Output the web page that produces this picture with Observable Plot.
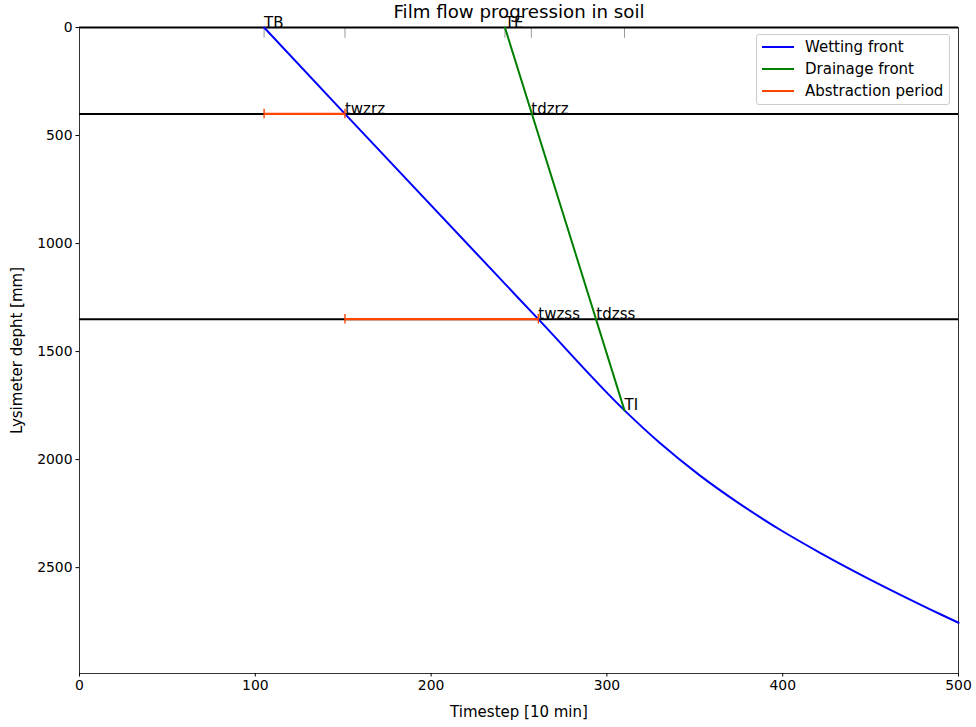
<!DOCTYPE html>
<html>
<head>
<meta charset="utf-8">
<script src="https://cdn.jsdelivr.net/npm/d3@7"></script>
<script src="https://cdn.jsdelivr.net/npm/@observablehq/plot@0.6"></script>
<style>
  body { margin: 0; background: #fff; font-family: "DejaVu Sans", sans-serif; }
  #wrap { position: relative; width: 976px; height: 727px; }
  #legend { position: absolute; left: 756px; top: 34px; width: 194px; height: 71px;
    border: 1px solid #cccccc; border-radius: 3px; background: rgba(255,255,255,0.8);
    box-sizing: border-box; font-size: 15px; color: #000; }
  .row { position: absolute; left: 0; height: 20px; }
  .sw { position: absolute; left: 5px; width: 32px; height: 0; border-top: 2px solid; top: 9px; }
  .lb { position: absolute; left: 48px; top: 0; white-space: nowrap; line-height: 20px; }
</style>
</head>
<body>
<div id="wrap"></div>
<script>
// Wetting front (timestep, depth mm)
const wetT = [105, 151, 261, 310, 330, 353, 376, 399, 421, 444, 467, 490, 500];
const wetD = [0, 400, 1350, 1772, 1922, 2074, 2207, 2327, 2430, 2531, 2626, 2717, 2755];
// Drainage front
const drainT = [242, 310];
const drainD = [0, 1772];
// Horizontal levels (surface, root zone, sub-soil)
const levelD = [0, 400, 1350];
// Abstraction periods
const abstrStart = [105, 151];
const abstrEnd = [151, 261];
const abstrD = [400, 1350];
// Annotated points
const markerNames = ["TB", "twzrz", "TE", "tdzrz", "twzss", "tdzss", "TI"];
const markerT = [105, 151, 242, 257, 261, 294, 310];
const markerD = [0, 400, 0, 400, 1350, 1350, 1772];
// Small gray ticks at the surface
const topTickT = [105, 151, 242, 257, 310];
const topTickLen = 50;
const capHalf = 22;
const xTicks = [0, 100, 200, 300, 400, 500];
const yTicks = [0, 500, 1000, 1500, 2000, 2500];

const wet = wetT.map((t, i) => ({t, d: wetD[i]}));
const drain = drainT.map((t, i) => ({t, d: drainD[i]}));
const abstr = abstrD.map((d, i) => ({x1: abstrStart[i], x2: abstrEnd[i], d}));
const caps = abstr.flatMap(a => [{t: a.x1, d: a.d}, {t: a.x2, d: a.d}]);
const markers = markerNames.map((n, i) => ({n, t: markerT[i], d: markerD[i]}));

const fs = 13.9;
const fsText = 15;
const chart = Plot.plot({
  width: 976,
  height: 727,
  marginLeft: 79,
  marginRight: 18,
  marginTop: 27,
  marginBottom: 54,
  style: {fontFamily: "DejaVu Sans", fontSize: fs + "px", background: "#fff", overflow: "visible", color: "#000"},
  x: {domain: [0, 500]},
  y: {domain: [0, 2990], reverse: true},
  marks: [
    Plot.frame({stroke: "#000", strokeWidth: 0.8}),
    Plot.ruleX(topTickT, {x: d => d, y1: 0, y2: topTickLen, stroke: "#999999", strokeWidth: 1}),
    Plot.ruleY(levelD, {y: d => d, stroke: "#000", strokeWidth: 2}),
    Plot.line(wet, {x: "t", y: "d", stroke: "blue", strokeWidth: 2, curve: "monotone-x"}),
    Plot.line(drain, {x: "t", y: "d", stroke: "green", strokeWidth: 2}),
    Plot.link(abstr, {x1: "x1", x2: "x2", y1: "d", y2: "d", stroke: "orangered", strokeWidth: 2.2}),
    Plot.ruleX(caps, {x: "t", y1: d => d.d - capHalf, y2: d => d.d + capHalf, stroke: "orangered", strokeWidth: 1.4}),
    Plot.text(markers, {x: "t", y: "d", text: "n", textAnchor: "start", lineAnchor: "bottom", fontSize: fsText, fill: "#000"}),
    Plot.axisX({ticks: xTicks, tickFormat: d => String(d), tickSize: 3.5, tickPadding: 3.5, fontSize: fs, label: null}),
    Plot.axisY({ticks: yTicks, tickFormat: d => String(d), tickSize: 3.5, tickPadding: 3.5, fontSize: fs, label: null}),
    Plot.text(["Timestep [10 min]"], {frameAnchor: "bottom", dy: 39, text: d => d, fontSize: fsText, textAnchor: "middle", lineAnchor: "middle"}),
    Plot.text(["Lysimeter depht [mm]"], {frameAnchor: "left", dx: -62, rotate: -90, text: d => d, fontSize: fsText, textAnchor: "middle", lineAnchor: "middle"}),
    Plot.text(["Film flow progression in soil"], {frameAnchor: "top", dy: -15, text: d => d, fontSize: 18.2, textAnchor: "middle", lineAnchor: "middle"})
  ]
});

const wrap = document.getElementById("wrap");
wrap.appendChild(chart);

const legendItems = [
  {label: "Wetting front", color: "blue"},
  {label: "Drainage front", color: "green"},
  {label: "Abstraction period", color: "orangered"}
];
const lg = document.createElement("div");
lg.id = "legend";
legendItems.forEach((it, i) => {
  const r = document.createElement("div");
  r.className = "row";
  r.style.top = (2 + i * 22) + "px";
  r.style.width = "190px";
  const sw = document.createElement("div");
  sw.className = "sw";
  sw.style.borderTopColor = it.color;
  const lb = document.createElement("div");
  lb.className = "lb";
  lb.textContent = it.label;
  r.appendChild(sw); r.appendChild(lb);
  lg.appendChild(r);
});
wrap.appendChild(lg);
</script>
</body>
</html>
